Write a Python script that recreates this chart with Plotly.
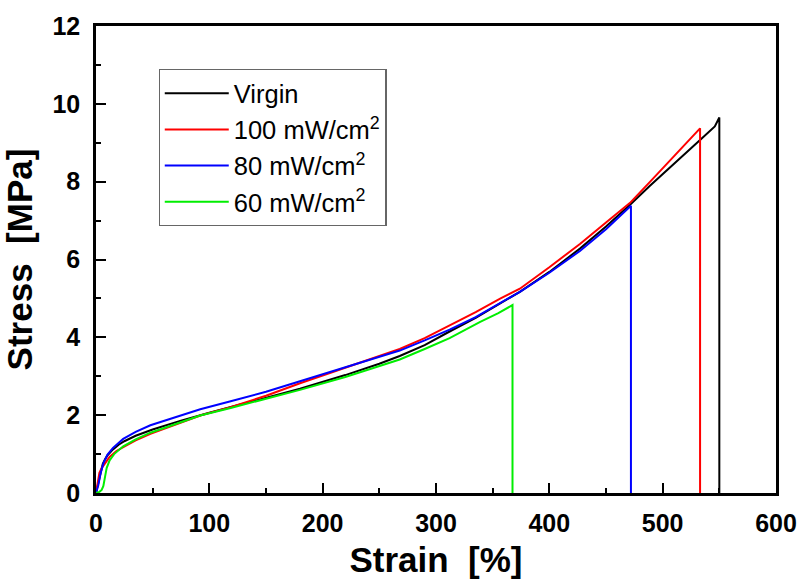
import plotly.graph_objects as go

# ---- data ----
virgin_strain = [0, 2, 4, 6, 8, 10, 15, 20, 25, 35, 50, 75, 100, 125, 150, 180, 220, 250, 268, 290, 312, 335, 357, 374, 400, 427, 450, 471, 489, 510, 533, 546, 548, 550, 550]
virgin_stress = [0, 0.25, 0.55, 0.75, 0.87, 0.96, 1.12, 1.24, 1.33, 1.47, 1.63, 1.86, 2.06, 2.25, 2.44, 2.68, 3.03, 3.32, 3.52, 3.8, 4.15, 4.5, 4.88, 5.17, 5.68, 6.28, 6.85, 7.4, 7.9, 8.45, 9.07, 9.42, 9.52, 9.65, 0]

mw100_strain = [0, 1.5, 3, 5, 8, 12, 18, 24, 35, 48, 75, 92, 118, 150, 180, 220, 250, 268, 290, 312, 335, 357, 374, 400, 427, 450, 471, 489, 510, 533, 533]
mw100_stress = [0, 0.3, 0.52, 0.64, 0.78, 0.93, 1.08, 1.18, 1.35, 1.52, 1.82, 1.99, 2.2, 2.5, 2.82, 3.22, 3.52, 3.7, 3.98, 4.3, 4.65, 5.0, 5.25, 5.8, 6.4, 6.95, 7.45, 8.0, 8.65, 9.37, 0]

mw80_strain = [0, 2, 4, 6.5, 10, 15, 24, 35, 48, 75, 92, 118, 150, 180, 220, 250, 268, 290, 312, 335, 357, 374, 400, 427, 450, 472, 472]
mw80_stress = [0, 0.2, 0.5, 0.76, 0.98, 1.16, 1.39, 1.57, 1.74, 1.99, 2.15, 2.35, 2.6, 2.87, 3.22, 3.5, 3.66, 3.92, 4.2, 4.52, 4.88, 5.17, 5.66, 6.22, 6.78, 7.38, 0]

mw60_strain = [0, 3, 5, 6.5, 8, 9.4, 12, 16, 24, 35, 48, 75, 92, 118, 150, 180, 220, 250, 268, 290, 312, 339, 355, 367.5, 367.5]
mw60_stress = [0, 0.03, 0.08, 0.18, 0.42, 0.64, 0.84, 1.0, 1.2, 1.38, 1.55, 1.82, 1.99, 2.18, 2.42, 2.65, 2.98, 3.25, 3.43, 3.7, 3.98, 4.4, 4.62, 4.83, 0]

series_names = ["Virgin", "100 mW/cm<sup>2</sup>", "80 mW/cm<sup>2</sup>", "60 mW/cm<sup>2</sup>"]
series_colors = ["#000000", "#ff0000", "#0000ff", "#00ee00"]

x_ticks = [0, 100, 200, 300, 400, 500, 600]
y_ticks = [0, 2, 4, 6, 8, 10, 12]

fig = go.Figure()
for xs, ys, name, col in zip(
    [virgin_strain, mw100_strain, mw80_strain, mw60_strain],
    [virgin_stress, mw100_stress, mw80_stress, mw60_stress],
    series_names, series_colors):
    fig.add_trace(go.Scatter(x=xs, y=ys, mode="lines", name=name,
                             line=dict(color=col, width=2)))

FONT = "Liberation Sans, Arial"
tick_font = dict(family=FONT, size=25, color="black")
axis_common = dict(
    showline=True, linecolor="black", linewidth=2.5, mirror=True,
    ticks="inside", ticklen=10, tickwidth=2, tickcolor="black",
    showgrid=False, zeroline=False, tickfont=tick_font, automargin=False,
)

fig.update_xaxes(range=[0, 600], tickvals=x_ticks, ticktext=[f"<b>{v}</b>" for v in x_ticks],
                 minor=dict(ticks="inside", ticklen=5, tickwidth=2, tickcolor="black", dtick=50, showgrid=False),
                 title=dict(text="<b>Strain  [%]</b>", standoff=12,
                            font=dict(family=FONT, size=35, color="black")),
                 ticklabelstandoff=6, **axis_common)
fig.update_yaxes(range=[0, 12], tickvals=y_ticks, ticktext=[f"<b>{v}</b>" for v in y_ticks],
                 minor=dict(ticks="inside", ticklen=5, tickwidth=2, tickcolor="black", dtick=1, showgrid=False),
                 title=dict(text="<b>Stress  [MPa]</b>", standoff=12,
                            font=dict(family=FONT, size=35, color="black")),
                 ticklabelstandoff=8, **axis_common)

fig.update_layout(
    width=803, height=583,
    margin=dict(l=96, r=27, t=26, b=90),
    plot_bgcolor="white", paper_bgcolor="white",
    showlegend=True,
    legend=dict(x=0.092, y=0.908, xanchor="left", yanchor="top",
                bgcolor="white", bordercolor="#666666", borderwidth=1.2,
                font=dict(family=FONT, size=25.5, color="black"),
                itemwidth=64, tracegroupgap=0),
)

fig.write_html("out.html", config={"displayModeBar": False},
               post_script="document.body.style.margin='0';document.body.style.padding='0';")
